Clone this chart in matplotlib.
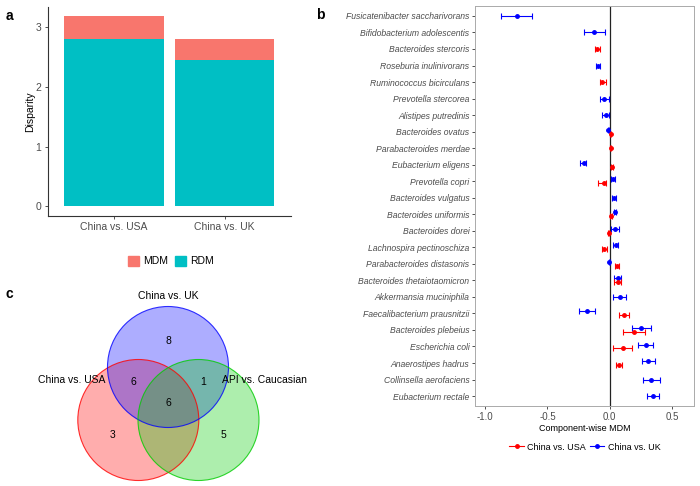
import numpy as np
import matplotlib
matplotlib.use("Agg")
import matplotlib.pyplot as plt
from matplotlib.patches import Patch, Circle
from matplotlib.lines import Line2D

plt.rcParams['font.family'] = ['Liberation Sans', 'DejaVu Sans']

# ---------------- data ----------------
# panel a
comparisons = ["China vs. USA", "China vs. UK"]
rdm = [2.795, 2.445]
mdm = [0.385, 0.355]

# panel b
species = [
    "Fusicatenibacter saccharivorans", "Bifidobacterium adolescentis", "Bacteroides stercoris",
    "Roseburia inulinivorans", "Ruminococcus bicirculans", "Prevotella stercorea",
    "Alistipes putredinis", "Bacteroides ovatus", "Parabacteroides merdae",
    "Eubacterium eligens", "Prevotella copri", "Bacteroides vulgatus",
    "Bacteroides uniformis", "Bacteroides dorei", "Lachnospira pectinoschiza",
    "Parabacteroides distasonis", "Bacteroides thetaiotaomicron", "Akkermansia muciniphila",
    "Faecalibacterium prausnitzii", "Bacteroides plebeius", "Escherichia coli",
    "Anaerostipes hadrus", "Collinsella aerofaciens", "Eubacterium rectale",
]
nan = np.nan
uk_mean = [-0.746, -0.124, nan, -0.098, nan, -0.045, -0.029, -0.013, nan, -0.210, 0.025, 0.034,
           0.038, 0.042, 0.048, -0.005, 0.062, 0.078, -0.185, 0.254, 0.288, 0.310, 0.333, 0.347]
uk_lo = [-0.870, -0.206, nan, -0.114, nan, -0.078, -0.063, -0.018, nan, -0.235, 0.008, 0.016,
         0.030, 0.010, 0.027, -0.008, 0.030, 0.022, -0.249, 0.180, 0.228, 0.257, 0.265, 0.299]
uk_hi = [-0.624, -0.037, nan, -0.079, nan, -0.006, -0.003, -0.008, nan, -0.188, 0.045, 0.053,
         0.046, 0.075, 0.067, -0.002, 0.092, 0.130, -0.118, 0.331, 0.347, 0.362, 0.402, 0.397]
usa_mean = [nan, nan, -0.103, nan, -0.061, nan, nan, 0.006, 0.007, 0.016, -0.045, nan,
            0.012, -0.010, -0.045, 0.058, 0.062, nan, 0.112, 0.196, 0.103, 0.077, nan, nan]
usa_lo = [nan, nan, -0.122, nan, -0.082, nan, nan, 0.003, 0.002, 0.010, -0.093, nan,
          0.004, -0.015, -0.062, 0.042, 0.030, nan, 0.071, 0.108, 0.029, 0.053, nan, nan]
usa_hi = [nan, nan, -0.079, nan, -0.032, nan, nan, 0.010, 0.013, 0.022, -0.029, nan,
          0.020, -0.005, -0.026, 0.074, 0.092, nan, 0.153, 0.286, 0.180, 0.101, nan, nan]
x_ticks_b = [-1.0, -0.5, 0.0, 0.5]

# panel c
venn_sets = ["China vs. USA", "China vs. UK", "API vs. Caucasian"]
venn_counts = {"UK only": 8, "USA&UK": 6, "UK&API": 1, "all": 6, "USA only": 3, "API only": 5}

# ---------------- figure ----------------
W, H = 700, 486
fig = plt.figure(figsize=(7, 4.86), dpi=100)

def ax_px(x0, y0, x1, y1):
    return fig.add_axes([x0 / W, 1 - y1 / H, (x1 - x0) / W, (y1 - y0) / H])

grey_txt = "#4d4d4d"

# ---------- panel a ----------
axa = ax_px(47.7, 6.7, 291, 216)
xa = np.arange(1, len(comparisons) + 1)
c_rdm, c_mdm = "#00BFC4", "#F8766D"
axa.bar(xa, rdm, width=0.9, color=c_rdm)
axa.bar(xa, mdm, width=0.9, bottom=rdm, color=c_mdm)
axa.set_xlim(0.4, 2.6)
tot = max(r + m for r, m in zip(rdm, mdm))
axa.set_ylim(-0.05 * tot, 1.05 * tot)
axa.set_xticks(xa)
axa.set_xticklabels(comparisons)
axa.set_yticks([0, 1, 2, 3])
axa.tick_params(labelsize=7.5, colors="#333333", labelcolor=grey_txt, length=2.5, width=0.6, pad=2)
axa.set_ylabel("Disparity", fontsize=7.5, labelpad=0)
for s in ["top", "right"]:
    axa.spines[s].set_visible(False)
for s in ["left", "bottom"]:
    axa.spines[s].set_linewidth(0.8)
    axa.spines[s].set_color("#333333")

fig.legend(handles=[Patch(color=c_mdm, label="MDM"), Patch(color=c_rdm, label="RDM")],
           loc="center", bbox_to_anchor=(171 / W, 1 - 261 / H), ncol=2, frameon=False,
           fontsize=7.5, handlelength=1.1, handleheight=1.1, handletextpad=0.4,
           columnspacing=0.6)

fig.text(6 / W, 1 - 16 / H, "a", fontsize=10, fontweight="bold", va="center")
fig.text(316 / W, 1 - 15 / H, "b", fontsize=10, fontweight="bold", va="center")
fig.text(6 / W, 1 - 294 / H, "c", fontsize=10, fontweight="bold", va="center")

# ---------- panel b ----------
axb = ax_px(475, 6, 694, 406)
n = len(species)
rows = np.arange(1, n + 1)
um, ul, uh = map(np.array, (uk_mean, uk_lo, uk_hi))
sm, sl, sh = map(np.array, (usa_mean, usa_lo, usa_hi))
both = ~np.isnan(um) & ~np.isnan(sm)
dodge = 0.12
y_uk = rows - np.where(both, dodge, 0)
y_usa = rows + np.where(both, dodge, 0)

mu = ~np.isnan(um)
axb.errorbar(um[mu], y_uk[mu], xerr=[um[mu] - ul[mu], uh[mu] - um[mu]], fmt="o", color="blue",
             ms=2.5, elinewidth=0.8, capsize=2.2, capthick=0.8, zorder=3)
ms_ = ~np.isnan(sm)
axb.errorbar(sm[ms_], y_usa[ms_], xerr=[sm[ms_] - sl[ms_], sh[ms_] - sm[ms_]], fmt="o", color="red",
             ms=2.5, elinewidth=0.8, capsize=2.2, capthick=0.8, zorder=3)
axb.axvline(0, color="#222222", lw=0.9, zorder=1)
axb.set_ylim(n + 0.6, 0.4)
axb.set_xlim(-1.08, 0.675)
axb.set_yticks(rows)
axb.set_yticklabels(species, fontstyle="italic", fontsize=6.2)
axb.set_xticks(x_ticks_b)
axb.set_xticklabels([f"{v:.1f}" for v in x_ticks_b], fontsize=7)
axb.tick_params(colors="#333333", labelcolor=grey_txt, length=2.5, width=0.6, pad=1.5)
axb.set_xlabel("Component-wise MDM", fontsize=6.5, labelpad=1.5)
for s in axb.spines.values():
    s.set_color("#aaaaaa")
    s.set_linewidth(0.7)

fig.legend(handles=[Line2D([], [], color="red", marker="o", ms=2.5, lw=0.8, label="China vs. USA"),
                    Line2D([], [], color="blue", marker="o", ms=2.5, lw=0.8, label="China vs. UK")],
           loc="center", bbox_to_anchor=(585 / W, 1 - 447 / H), ncol=2, frameon=False,
           fontsize=6.5, handlelength=1.6, handletextpad=0.4, columnspacing=0.4)

# ---------- panel c ----------
axc = ax_px(0, 285, 300, 486)
axc.set_xlim(0, 300)
axc.set_ylim(486, 285)
axc.axis("off")
circles = [((138.3, 420), 60.5, "red"), ((168, 367), 60.5, "blue"), ((198.5, 420), 60.5, "#00cc00")]
for (c, r, col) in circles:
    axc.add_patch(Circle(c, r, facecolor=col, alpha=0.32, edgecolor="none"))
for (c, r, col) in circles:
    axc.add_patch(Circle(c, r, facecolor="none", edgecolor=col, lw=0.8, alpha=0.8))
label_pos = [(72, 380), (168, 296), (264, 380)]
for name, (x, y) in zip(venn_sets, label_pos):
    axc.text(x, y, name, ha="center", va="center", fontsize=7.5)
count_pos = {"UK only": (168, 341), "USA&UK": (133, 382), "UK&API": (203, 382),
             "all": (168, 403), "USA only": (113, 435), "API only": (223, 435)}
for k, v in venn_counts.items():
    x, y = count_pos[k]
    axc.text(x, y, str(v), ha="center", va="center", fontsize=7.5)

fig.savefig("out.png", dpi=100)
